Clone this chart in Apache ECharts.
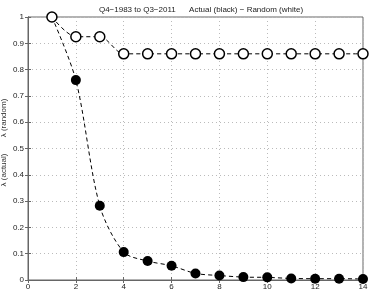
<!DOCTYPE html>
<html><head><meta charset="utf-8">
<script src="https://cdn.jsdelivr.net/npm/echarts@6/dist/echarts.min.js"></script>
<style>html,body{margin:0;padding:0;background:#fff}#c{width:374px;height:291px}</style>
</head><body><div id="c"></div>
<script>
const xValues = [1,2,3,4,5,6,7,8,9,10,11,12,13,14];
const actual = [1,0.76,0.282,0.106,0.072,0.054,0.025,0.017,0.011,0.01,0.006,0.005,0.005,0.004];
const random = [1,0.925,0.925,0.86,0.86,0.86,0.86,0.86,0.86,0.86,0.86,0.86,0.86,0.86];
const titleText = 'Q4\u22121983 to Q3\u22122011      Actual (black) \u2212 Random (white)';
const yLabelTop = '\u03bb (random)';
const yLabelBottom = '\u03bb (actual)';

const font = 'Liberation Sans, Arial, sans-serif';
const chart = echarts.init(document.getElementById('c'), null, {renderer:'canvas'});
const axisColor = '#666';
const gridStyle = {show:true, lineStyle:{color:'#bbb', type:[1,3], width:1}};
chart.setOption({
  animation:false,
  title:{text:titleText, left:196, top:1, textAlign:'center', textStyle:{fontSize:8, fontWeight:'normal', color:'#222', fontFamily:font}},
  grid:{left:28, right:11, top:17, bottom:10, show:true, borderColor:axisColor, borderWidth:1},
  graphic:[
    {type:'text', x:4, y:118, rotation:Math.PI/2, style:{text:yLabelTop, fontSize:8, fill:'#333', font:'8px '+font, textAlign:'center', textVerticalAlign:'middle'}},
    {type:'text', x:4, y:170, rotation:Math.PI/2, style:{text:yLabelBottom, fontSize:8, fill:'#333', font:'8px '+font, textAlign:'center', textVerticalAlign:'middle'}}
  ],
  xAxis:[
    {type:'value', min:0, max:14, interval:2, position:'bottom',
     axisLine:{show:true, lineStyle:{color:axisColor}}, axisTick:{inside:true, length:3, lineStyle:{color:axisColor}},
     axisLabel:{fontSize:8, color:'#222', margin:3, fontFamily:font}, splitLine:gridStyle},
    {type:'value', min:0, max:14, interval:2, position:'top',
     axisLine:{show:true, lineStyle:{color:axisColor}}, axisTick:{inside:true, length:3, lineStyle:{color:axisColor}},
     axisLabel:{show:false}, splitLine:{show:false}}
  ],
  yAxis:[
    {type:'value', min:0, max:1, interval:0.1, position:'left',
     axisLine:{show:true, lineStyle:{color:axisColor}}, axisTick:{inside:true, length:3, lineStyle:{color:axisColor}},
     axisLabel:{fontSize:8, color:'#222', margin:4, fontFamily:font, formatter:v=>String(+v.toFixed(1))}, splitLine:gridStyle},
    {type:'value', min:0, max:1, interval:0.1, position:'right',
     axisLine:{show:true, lineStyle:{color:axisColor}}, axisTick:{inside:true, length:3, lineStyle:{color:axisColor}},
     axisLabel:{show:false}, splitLine:{show:false}}
  ],
  series:[
    {type:'line', data:xValues.map((x,i)=>[x,actual[i]]), smooth:0.3, symbol:'circle', symbolSize:10,
     lineStyle:{color:'#000', width:1, type:[4,3]}, itemStyle:{color:'#000', borderColor:'#000', borderWidth:0}},
    {type:'line', data:xValues.map((x,i)=>[x,random[i]]), smooth:0.3, symbol:'circle', symbolSize:10,
     lineStyle:{color:'#000', width:1, type:[4,3]}, itemStyle:{color:'#fff', borderColor:'#000', borderWidth:1.5}}
  ]
});
</script></body></html>
